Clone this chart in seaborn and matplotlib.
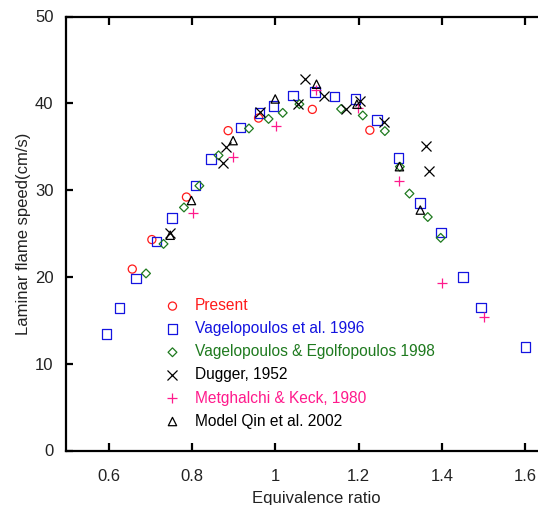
import matplotlib
matplotlib.use("Agg")
import matplotlib.pyplot as plt
import seaborn as sns
import pandas as pd

# values
present_phi = [0.657, 0.704, 0.787, 0.887, 0.960, 1.089, 1.227]
present_su = [20.9, 24.3, 29.2, 36.85, 38.3, 39.3, 36.9]

vag96_phi = [0.595, 0.626, 0.666, 0.715, 0.752, 0.809, 0.846, 0.917, 0.962, 0.996, 1.043,
             1.095, 1.142, 1.193, 1.244, 1.296, 1.347, 1.398, 1.450, 1.494, 1.600]
vag96_su = [13.4, 16.4, 19.8, 24.05, 26.8, 30.5, 33.6, 37.2, 38.9, 39.7, 40.9,
            41.3, 40.8, 40.5, 38.1, 33.7, 28.5, 25.1, 20.0, 16.5, 11.9]

vag98_phi = [0.690, 0.732, 0.781, 0.818, 0.864, 0.937, 0.984, 1.018, 1.058,
             1.158, 1.210, 1.263, 1.299, 1.322, 1.366, 1.397]
vag98_su = [20.4, 23.8, 28.0, 30.5, 34.0, 37.1, 38.2, 38.9, 39.9,
            39.35, 38.6, 36.8, 32.7, 29.6, 26.9, 24.5]

dugger_phi = [0.748, 0.874, 0.881, 0.963, 1.054, 1.072, 1.118, 1.170, 1.204, 1.260, 1.362, 1.370]
dugger_su = [25.1, 33.1, 35.0, 39.0, 39.9, 42.8, 40.8, 39.3, 40.3, 37.9, 35.1, 32.2]

metg_phi = [0.803, 0.898, 1.001, 1.098, 1.198, 1.298, 1.401, 1.500]
metg_su = [27.4, 33.8, 37.35, 41.5, 39.5, 31.0, 19.3, 15.4]

qin_phi = [0.748, 0.799, 0.899, 1.000, 1.099, 1.196, 1.298, 1.348]
qin_su = [24.8, 28.8, 35.7, 40.5, 42.2, 39.9, 32.7, 27.7]

series = [
    ("Present", present_phi, present_su, "o", 34, "#ff1a1a"),
    ("Vagelopoulos et al. 1996", vag96_phi, vag96_su, "s", 46, "#1414e0"),
    ("Vagelopoulos & Egolfopoulos 1998", vag98_phi, vag98_su, "D", 20, "#1f7a1f"),
    ("Dugger, 1952", dugger_phi, dugger_su, "x", 52, "#000000"),
    ("Metghalchi & Keck, 1980", metg_phi, metg_su, "+", 59, "#ff1a8c"),
    ("Model Qin et al. 2002", qin_phi, qin_su, "^", 36, "#000000"),
]

sns.set_theme(style="white")
plt.rcParams['font.family'] = ['Liberation Sans', 'DejaVu Sans']

fig = plt.figure(figsize=(5.38, 5.05), dpi=100)
# the original axes runs past the right edge of the picture
ax = fig.add_axes([66 / 538, 54.5 / 505, 501 / 538, 434 / 505])

for name, xs, ys, mk, size, col in series:
    df = pd.DataFrame({"phi": xs, "su": ys})
    if mk in ("x", "+"):
        sns.scatterplot(data=df, x="phi", y="su", marker=mk, s=size, color=col,
                        linewidth=0.9, label=name, ax=ax)
    else:
        sns.scatterplot(data=df, x="phi", y="su", marker=mk, s=size, facecolor="none",
                        edgecolor=col, linewidth=0.9, label=name, ax=ax)

ax.set_xlim(0.498, 1.70)
ax.set_ylim(0, 50)
ax.set_xticks([0.6, 0.8, 1.0, 1.2, 1.4, 1.6])
ax.set_xticklabels(["0.6", "0.8", "1", "1.2", "1.4", "1.6"])
ax.set_yticks([0, 10, 20, 30, 40, 50])

for side in ["left", "bottom", "top"]:
    ax.spines[side].set_visible(True)
    ax.spines[side].set_color("black")
    ax.spines[side].set_linewidth(1.6)
ax.spines["right"].set_visible(False)

ax.tick_params(axis="x", direction="in", length=5.5, width=1.6, top=True, bottom=True,
               labelsize=12, pad=13, colors="black")
ax.tick_params(axis="y", direction="in", length=5, width=1.6, left=True,
               labelsize=12, pad=9, colors="black")
for lab in ax.get_xticklabels() + ax.get_yticklabels():
    lab.set_color("#222222")

ax.set_xlabel("Equivalence ratio", fontsize=12, labelpad=5, color="#222222")
ax.set_ylabel("Laminar flame speed(cm/s)", fontsize=12, labelpad=3, color="#222222")

leg = ax.legend(loc="upper left", bbox_to_anchor=(0.197, 0.351), frameon=False,
                fontsize=11.2, borderpad=0, handlelength=1.0, handletextpad=0.95,
                labelspacing=0.52, borderaxespad=0,
                labelcolor=[s[5] for s in series])

fig.savefig("out.png", dpi=100)
